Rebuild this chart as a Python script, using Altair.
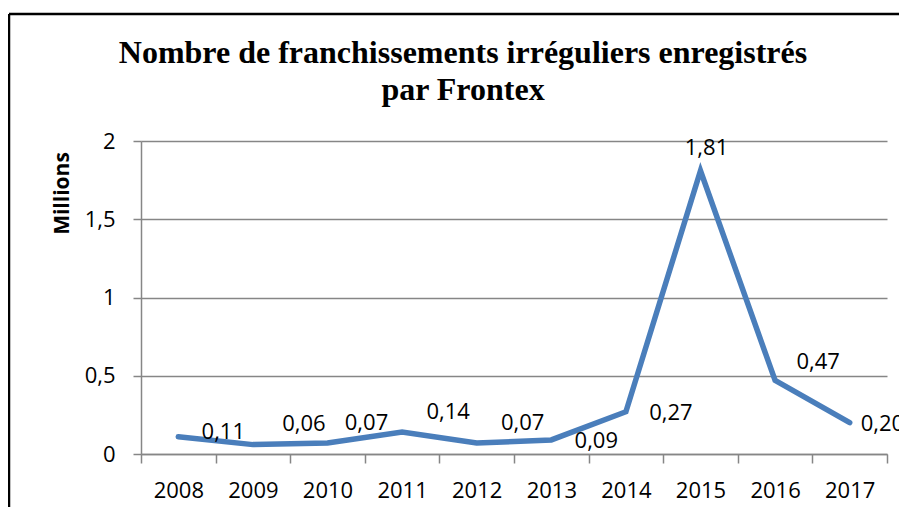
import altair as alt
import pandas as pd

years = ["2008", "2009", "2010", "2011", "2012", "2013", "2014", "2015", "2016", "2017"]
values = [0.11, 0.06, 0.07, 0.14, 0.07, 0.09, 0.27, 1.81, 0.47, 0.20]
y_ticks = [0, 0.5, 1, 1.5, 2]
title_lines = ["Nombre de franchissements irréguliers enregistrés", "par Frontex"]
y_title = "Millions"

df = pd.DataFrame({"year": years, "value": values})

W, H = 746, 313
GRAY = "#868686"
LINE = "#4a7ebb"
FONT = "Open Sans"

x_enc = alt.X(
    "year:N",
    sort=years,
    scale=alt.Scale(type="band", paddingInner=0, paddingOuter=0),
    axis=alt.Axis(
        title=None, labelAngle=0, tickBand="extent", tickSize=9,
        labelPadding=17, domainColor=GRAY, tickColor=GRAY, domainWidth=1.5,
        tickWidth=1.5, grid=False,
    ),
)
y_enc = alt.Y(
    "value:Q",
    scale=alt.Scale(domain=[0, 2], nice=False),
    axis=alt.Axis(
        title=y_title, values=y_ticks,
        labelExpr="replace(format(datum.value, '~g'), '.', ',')",
        grid=True, gridColor=GRAY, gridWidth=1.5, tickSize=8, labelPadding=18,
        domainColor=GRAY, tickColor=GRAY, domainWidth=1.5, tickWidth=1.5,
        titleX=-79, titleY=52, titleAngle=270, titleAlign="center",
        titleBaseline="middle", titleFont=FONT, titleFontSize=21,
        titleFontWeight="bold", titleColor="black",
    ),
)

base = alt.Chart(df).encode(x=x_enc, y=y_enc)

line = base.mark_line(color=LINE, strokeWidth=5.5, strokeJoin="miter", strokeCap="round")


def labels(sel, dx, dy, align="center"):
    return (
        base.transform_filter(alt.FieldOneOfPredicate(field="year", oneOf=sel))
        .transform_calculate(label="replace(format(datum.value, '.2f'), '.', ',')")
        .mark_text(dx=dx, dy=dy, align=align, baseline="middle", font=FONT,
                   fontSize=22, color="black")
        .encode(text="label:N")
    )


lab_layers = [
    labels(["2008"], 45, -5),
    labels(["2009"], 51, -21),
    labels(["2010"], 39, -20),
    labels(["2011", "2012"], 46, -20),
    labels(["2013", "2014"], 45, 1),
    labels(["2015"], 6, -23),
    labels(["2016"], 43, -18),
    labels(["2017"], 11, 1, align="left"),
]

frame_df = pd.DataFrame({"k": [0]})
top_border = alt.Chart(frame_df).mark_rule(color="black", strokeWidth=2.5).encode(
    x=alt.value(-132), x2=alt.value(W + 40), y=alt.value(-127)
)
left_border = alt.Chart(frame_df).mark_rule(color="black", strokeWidth=2.5).encode(
    x=alt.value(-132), y=alt.value(-127), y2=alt.value(H + 80)
)
title = alt.Chart(frame_df).mark_text(
    font="Liberation Serif", fontSize=32, fontWeight="bold", color="black",
    align="center", baseline="alphabetic", lineHeight=37,
).encode(x=alt.value(322), y=alt.value(-78), text=alt.value(title_lines))

chart = (
    alt.layer(line, *lab_layers, top_border, left_border, title)
    .properties(
        width=W,
        height=H,
        padding={"left": 133, "top": 133, "right": 12, "bottom": 53},
        autosize=alt.AutoSizeParams(type="none"),
        background="white",
    )
    .configure_view(stroke=None)
    .configure_axis(labelFont=FONT, labelFontSize=22, labelColor="black")
)

chart.save("out.html", embed_options={"renderer": "svg", "actions": False})
